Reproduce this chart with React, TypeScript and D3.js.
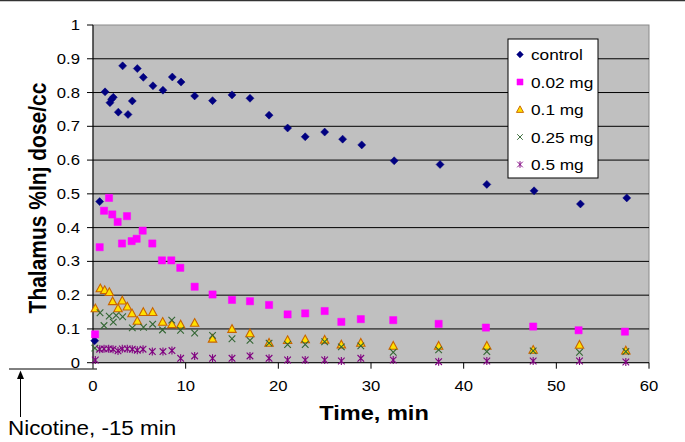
import React from 'react';
import * as d3 from 'd3';

const W = 685;
const H = 442;

const xTicks = [0, 10, 20, 30, 40, 50, 60];
const yTicks = [0, 0.1, 0.2, 0.3, 0.4, 0.5, 0.6, 0.7, 0.8, 0.9, 1];
const yTickLabels = ['0', '0.1', '0.2', '0.3', '0.4', '0.5', '0.6', '0.7', '0.8', '0.9', '1'];
const seriesNames = ['control', '0.02 mg', '0.1 mg', '0.25 mg', '0.5 mg'];

const controlData: [number, number][] = [
  [0.18, 0.065], [0.72, 0.477], [1.3, 0.802], [1.83, 0.77], [2.0, 0.78], [2.19, 0.786], [2.73, 0.742],
  [3.2, 0.879], [3.78, 0.735], [4.24, 0.775], [4.78, 0.871], [5.43, 0.845], [6.47, 0.82], [7.55, 0.807],
  [8.56, 0.846], [9.5, 0.831], [10.97, 0.79], [12.9, 0.776], [15.0, 0.793], [16.94, 0.783], [19.0, 0.733],
  [21.0, 0.695], [22.9, 0.669], [25.0, 0.683], [26.94, 0.662], [29.0, 0.645], [32.5, 0.598], [37.45, 0.587],
  [42.5, 0.528], [47.6, 0.509], [52.6, 0.47], [57.6, 0.488],
];

const mg002Data: [number, number][] = [
  [0.22, 0.084], [0.72, 0.342], [1.19, 0.45], [1.73, 0.488], [2.08, 0.439], [2.66, 0.417], [3.13, 0.353],
  [3.67, 0.434], [4.17, 0.36], [4.71, 0.367], [5.36, 0.391], [6.4, 0.353], [7.44, 0.303], [8.45, 0.303],
  [9.42, 0.281], [10.97, 0.225], [12.9, 0.202], [15.0, 0.186], [16.94, 0.182], [19.0, 0.171], [21.0, 0.143],
  [22.9, 0.146], [25.0, 0.153], [26.8, 0.121], [28.9, 0.129], [32.4, 0.126], [37.3, 0.115], [42.4, 0.104],
  [47.5, 0.107], [52.4, 0.096], [57.4, 0.092],
];

const mg01Data: [number, number][] = [
  [0.25, 0.161], [0.79, 0.22], [1.26, 0.215], [1.76, 0.209], [2.12, 0.182], [2.7, 0.161], [3.16, 0.184],
  [3.7, 0.166], [4.21, 0.146], [4.78, 0.124], [5.43, 0.15], [6.44, 0.15], [7.52, 0.121], [8.52, 0.114],
  [9.46, 0.113], [10.97, 0.118], [12.9, 0.071], [15.0, 0.1], [16.94, 0.087], [19.0, 0.059], [21.0, 0.067],
  [22.9, 0.069], [25.0, 0.068], [26.8, 0.054], [28.9, 0.059], [32.4, 0.05], [37.3, 0.05], [42.5, 0.05],
  [47.5, 0.038], [52.5, 0.053], [57.5, 0.036],
];

const mg025Data: [number, number][] = [
  [0.2, 0.043], [0.76, 0.148], [1.19, 0.11], [1.75, 0.138], [2.19, 0.12], [2.5, 0.14], [3.2, 0.136],
  [4.24, 0.103], [5.45, 0.105], [6.44, 0.114], [7.5, 0.097], [8.5, 0.126], [9.45, 0.096], [10.97, 0.088],
  [12.9, 0.081], [15.0, 0.071], [16.94, 0.066], [19.0, 0.058], [21.0, 0.054], [22.9, 0.054], [25.0, 0.062],
  [26.8, 0.047], [28.9, 0.05], [32.4, 0.031], [37.3, 0.038], [42.5, 0.033], [47.5, 0.035], [52.5, 0.031],
  [57.5, 0.033],
];

const mg05Data: [number, number][] = [
  [0.25, 0.008], [0.72, 0.04], [1.19, 0.041], [1.69, 0.041], [2.16, 0.04], [2.7, 0.035], [3.16, 0.041],
  [3.7, 0.041], [4.24, 0.04], [4.78, 0.037], [5.4, 0.04], [6.4, 0.033], [7.55, 0.033], [8.52, 0.036],
  [9.46, 0.013], [10.97, 0.02], [12.9, 0.013], [15.0, 0.013], [16.94, 0.02], [19.0, 0.013], [21.0, 0.008],
  [22.9, 0.008], [25.0, 0.008], [26.8, 0.005], [28.9, 0.013], [32.4, 0.008], [37.3, 0.003], [42.5, 0.005],
  [47.5, 0.005], [52.5, 0.005], [57.5, 0.002],
];

const FONT = '"Liberation Sans", Arial, sans-serif';
const SX = 1.15;

const diamond = 'M0,-4L4,0L0,4L-4,0Z';
const square = 'M-3.6,-3.6H3.6V3.6H-3.6Z';
const triangle = 'M0,-4.3L4.2,3.4H-4.2Z';
const cross = 'M-3.3,-3.3L3.3,3.3M-3.3,3.3L3.3,-3.3';
const star = 'M-3.3,-3.3L3.3,3.3M-3.3,3.3L3.3,-3.3M0,-4V4';

type MarkerStyle = { path: string; fill: string; stroke: string; sw: number };
const styles: MarkerStyle[] = [
  { path: diamond, fill: '#000080', stroke: '#000080', sw: 0.5 },
  { path: square, fill: '#FF00FF', stroke: '#FF00FF', sw: 0.5 },
  { path: triangle, fill: '#FFE000', stroke: '#C86400', sw: 1.1 },
  { path: cross, fill: 'none', stroke: '#336633', sw: 1.1 },
  { path: star, fill: 'none', stroke: '#800080', sw: 1.1 },
];
const allData = [controlData, mg002Data, mg01Data, mg025Data, mg05Data];

function Txt(props: {
  x: number; y: number; size: number; anchor?: string; bold?: boolean; rot?: number; children: React.ReactNode;
}) {
  const { x, y, size, anchor = 'start', bold = false, rot = 0, children } = props;
  return (
    <text
      transform={`translate(${x},${y}) scale(${SX},1)${rot ? ` rotate(${rot})` : ''}`}
      fontFamily={FONT}
      fontSize={size}
      fontWeight={bold ? 'bold' : 'normal'}
      textAnchor={anchor}
      fill="#000"
    >
      {children}
    </text>
  );
}

export default function App() {
  const x = d3.scaleLinear().domain([0, 60]).range([93, 649]);
  const y = d3.scaleLinear().domain([0, 1]).range([362.7, 25]);
  const x0 = x(0), x1 = x(60), y0 = y(0), y1 = y(1);

  const legendX = 508, legendY = 39, legendW = 90, legendH = 139;
  const legendRows = [54.5, 82, 109.5, 137, 164.5];

  return (
    <svg width={W} height={H} style={{ position: 'absolute', left: 0, top: 0, background: '#fff' }}>
      <line x1={0} x2={W} y1={0.5} y2={0.5} stroke="#333" strokeWidth={1.5} />
      <rect x={x0} y={y1} width={x1 - x0} height={y0 - y1} fill="#C0C0C0" stroke="#8a8a8a" strokeWidth={1} />
      {yTicks.filter((t) => t > 0 && t < 1).map((t) => (
        <line key={'g' + t} x1={x0} x2={x1} y1={y(t)} y2={y(t)} stroke="#000" strokeWidth={1} />
      ))}
      {/* axes */}
      <line x1={x0} x2={x0} y1={y1} y2={y0} stroke="#000" strokeWidth={1} />
      <line x1={x0} x2={x1} y1={y0} y2={y0} stroke="#000" strokeWidth={1} />
      {yTicks.map((t, i) => (
        <g key={'yt' + t}>
          <line x1={x0 - 6} x2={x0} y1={y(t)} y2={y(t)} stroke="#000" />
          <Txt x={80} y={y(t) + 5} size={14.5} anchor="end">{yTickLabels[i]}</Txt>
        </g>
      ))}
      {xTicks.map((t) => (
        <g key={'xt' + t}>
          <line x1={x(t)} x2={x(t)} y1={y0} y2={y0 + 6} stroke="#000" />
          <Txt x={x(t)} y={391} size={14.5} anchor="middle">{t}</Txt>
        </g>
      ))}
      {/* data */}
      {allData.map((data, si) => (
        <g key={'s' + si}>
          {data.map(([t, v], i) => (
            <path
              key={i}
              d={styles[si].path}
              transform={`translate(${x(t)},${y(v)})`}
              fill={styles[si].fill}
              stroke={styles[si].stroke}
              strokeWidth={styles[si].sw}
            />
          ))}
        </g>
      ))}
      {/* legend */}
      <rect x={legendX} y={legendY} width={legendW} height={legendH} fill="#fff" stroke="#000" strokeWidth={1} />
      {seriesNames.map((name, i) => (
        <g key={'l' + name}>
          <path
            d={styles[i].path}
            transform={`translate(520,${legendRows[i]}) scale(0.85)`}
            fill={styles[i].fill}
            stroke={styles[i].stroke}
            strokeWidth={styles[i].sw}
          />
          <Txt x={531} y={legendRows[i] + 5.5} size={15}>{name}</Txt>
        </g>
      ))}
      {/* titles */}
      <Txt x={374} y={420} size={20.5} bold anchor="middle">Time, min</Txt>
      <Txt x={46} y={198} size={21} bold anchor="middle" rot={-90}>Thalamus %Inj dose/cc</Txt>
      {/* annotation */}
      <line x1={9} x2={97} y1={369} y2={369} stroke="#000" strokeWidth={1} />
      <line x1={20.5} x2={20.5} y1={374} y2={417} stroke="#000" strokeWidth={1} />
      <path d="M20.5,370.5L17,379L24,379Z" fill="#000" />
      <Txt x={8} y={435} size={19.5}>Nicotine, -15 min</Txt>
    </svg>
  );
}
